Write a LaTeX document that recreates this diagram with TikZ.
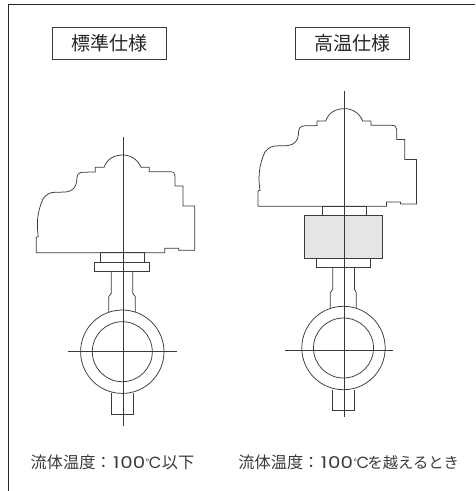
\documentclass[tikz,border=0pt]{standalone}
\usepackage{fontspec}
\newfontfamily\jp{Noto Sans CJK JP}
\newfontfamily\lat{Poppins}
\definecolor{ink}{HTML}{3A3A3A}
\definecolor{fillgrey}{HTML}{E4E5E6}
\newcommand{\degc}{\kern0.6pt{\lat\raisebox{4.6pt}{\fontsize{8}{8}\selectfont °}}\kern-0.2pt{\lat C}}
\newcommand{\lbl}{{\jp 流体温度：}\kern1.4pt{\lat\scalebox{1.22}[1]{1\kern0.8pt 00}}\degc}
\tikzset{
  x=1pt,y=-1pt,
  part/.style={draw=ink,line width=0.75pt,line join=miter},
  axis/.style={draw=ink,line width=0.75pt},
  frameline/.style={draw=black!85,line width=0.9pt},
  title/.style={draw=ink,line width=0.7pt,minimum width=114pt,minimum height=32pt,inner sep=0pt,font=\jp\fontsize{19}{20}\selectfont,text=black!85},
  caption/.style={anchor=west,inner sep=0pt,font=\fontsize{16.2}{18}\selectfont,text=ink}
}
\newcommand{\actuator}{%
  (36.3,252.7) -- (36.3,237.3) -- (38.3,236.7)
  .. controls (36.5,225) and (36.8,212) .. (43.3,198.3)
  .. controls (47,193.5) and (51,192.3) .. (55,192.3)
  -- (66,192)
  .. controls (73,191.5) and (76.5,186) .. (76.7,181)
  .. controls (76.7,175) and (78,172.3) .. (83,172.2)
  -- (95.3,172) -- (95.3,167.3) -- (104,167.3)
  .. controls (107,159) and (114,155) .. (123,155)
  .. controls (131,155) and (138,160) .. (141,167.3)
  -- (149.3,167.3) -- (149.3,171.7) -- (170,171.7)
  .. controls (173.5,171.7) and (175,173) .. (175,176)
  -- (175,186) -- (183,186) -- (183,206) -- (194.7,206)
  -- (194.7,250.3) -- (178.7,250.3) -- (178.7,248.3) -- (164.7,248.3) -- (164.7,252.7) -- cycle}
\begin{document}
\begin{tikzpicture}
\useasboundingbox (0,0) rectangle (475,491);
\draw[frameline] (8,491) -- (8,4.5) -- (475,4.5);
\node[title] (std) at (109.6,43.2) {\raisebox{-1.2pt}{標準仕様}};
\node[title] (high) at (352.3,43.2) {\raisebox{-1.2pt}{高温仕様}};
% left valve
\draw[part] \actuator;
\draw[part] (100.7,252.7) rectangle (144.3,262);
\draw[part] (94.7,262) rectangle (149,271.7);
\draw[part] (111.3,271.7) -- (111.3,293.3) -- (108.7,296.7) -- (108.7,312);
\draw[part] (132.7,271.7) -- (132.7,293.3) -- (135.3,296.7) -- (135.3,312);
\draw[part] (122.3,351.7) circle[radius=41.7];
\draw[part] (122.3,351.7) circle[radius=30];
\draw[part] (111.3,393) -- (111.3,414.3) -- (133,414.3) -- (133,393);
\draw[axis] (123,137) -- (123,426.3);
\draw[axis] (68.3,351) -- (176.7,351);
% right valve
\draw[part] [xshift=221.7pt,yshift=46.4pt] \actuator;
\draw[part] (322.3,206.3) rectangle (366,215.7);
\draw[part,fill=fillgrey] (304.7,215.7) rectangle (382.7,258.7);
\draw[part] (316.3,258.7) rectangle (370.7,267.7);
\draw[part] (332.7,267.7) -- (332.7,289.3) -- (330.3,292.7) -- (330.3,308);
\draw[part] (354.5,267.7) -- (354.5,289.3) -- (356.3,292.7) -- (356.3,308);
\draw[part] (343.5,348) circle[radius=41.7];
\draw[part] (343.5,348) circle[radius=30];
\draw[part] (332.7,389.5) -- (332.7,410.3) -- (354.7,410.3) -- (354.7,389.5);
\draw[axis] (344.2,90.7) -- (344.2,417.3);
\draw[axis] (285,350.7) -- (393.3,350.7);
% captions
\node[caption] (capa) at (30.5,462.5) {\lbl\kern0.5pt{\jp 以下}};
\node[caption] (capb) at (238.2,462.5) {\lbl\kern-1.5pt{\jp\fontsize{15.3}{18}\selectfont を越えるとき}};
\end{tikzpicture}
\end{document}
